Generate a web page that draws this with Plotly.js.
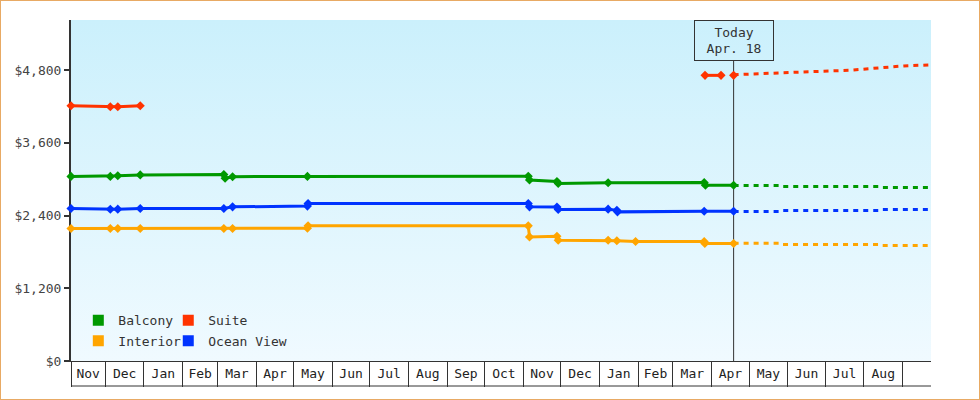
<!DOCTYPE html>
<html><head><meta charset="utf-8">
<script src="https://cdn.plot.ly/plotly-3.0.1.min.js"></script>
<style>
html,body{margin:0;padding:0;background:#fff;}
#wrap{position:relative;width:980px;height:400px;overflow:hidden;background:#fff;}
#bg{position:absolute;left:71px;top:20px;width:860px;height:341px;background:linear-gradient(to bottom,#cbf0fc,#f0faff);}
#chart{position:absolute;left:0;top:0;width:980px;height:400px;}
#frame{position:absolute;left:0;top:0;width:980px;height:400px;box-sizing:border-box;border:1px solid #e8aa64;pointer-events:none;}
</style></head>
<body>
<div id="wrap"><div id="bg"></div><div id="chart"></div><div id="frame"></div></div>
<script>
// ---- data ----
const rangeStart = '2016-11-03 12:00';
const rangeEnd = '2018-09-23 19:00';
const monthStarts = ['2016-12-01','2017-01-01','2017-02-01','2017-03-01','2017-04-01','2017-05-01','2017-06-01','2017-07-01','2017-08-01','2017-09-01','2017-10-01','2017-11-01','2017-12-01','2018-01-01','2018-02-01','2018-03-01','2018-04-01','2018-05-01','2018-06-01','2018-07-01','2018-08-01','2018-09-01'];
const monthLabels = ['Nov','Dec','Jan','Feb','Mar','Apr','May','Jun','Jul','Aug','Sep','Oct','Nov','Dec','Jan','Feb','Mar','Apr','May','Jun','Jul','Aug'];
const yTickValues = [0,1200,2400,3600,4800];
const yTickLabels = ['$0','$1,200','$2,400','$3,600','$4,800'];

const todayDate = '2018-04-18 14:00';
const todayLabel = 'Today<br>Apr. 18';

const seriesNames = ['Balcony','Suite','Interior','Ocean View'];

const balconyDates = ['2016-11-03 12:00','2016-12-05','2016-12-11','2016-12-29','2017-03-06','2017-03-07','2017-03-13','2017-05-12','2017-11-05','2017-11-06','2017-11-28','2017-11-29','2018-01-08','2018-03-26','2018-03-27','2018-04-18 14:00'];
const balconyPrices = [3045,3045,3055,3070,3075,3015,3040,3045,3048,2985,2960,2930,2940,2945,2900,2900];
const balconyFcDates = ['2018-04-18 14:00','2018-05-25','2018-05-26','2018-08-14','2018-08-15','2018-09-23 19:00'];
const balconyFcPrices = [2896,2896,2879,2879,2863,2863];

const suiteDates = ['2016-11-03 12:00','2016-12-05','2016-12-11','2016-12-29','2017-06-01','2018-03-26 16:00','2018-04-08 12:00','2018-04-13','2018-04-18 14:00'];
const suitePrices = [4210,4195,4195,4210,null,4712,4712,null,4712];
const suiteFcDates = ['2018-04-18 14:00','2018-05-09','2018-06-02','2018-06-18','2018-07-20','2018-08-13','2018-09-02','2018-09-23 19:00'];
const suiteFcPrices = [4722,4735,4750,4772,4795,4835,4868,4885];

const interiorDates = ['2016-11-03 12:00','2016-12-05','2016-12-11','2016-12-29','2017-03-06','2017-03-13','2017-05-12','2017-05-12 12:00','2017-11-05','2017-11-06','2017-11-28','2017-11-29','2018-01-08','2018-01-15','2018-01-30','2018-03-26','2018-03-26 12:00','2018-04-18 14:00'];
const interiorPrices = [2186,2186,2186,2186,2186,2186,2190,2229,2229,2047,2059,1993,1993,1983,1971,1971,1938,1938];
const interiorFcDates = ['2018-04-18 14:00','2018-05-25','2018-05-26','2018-08-14','2018-08-15','2018-09-23 19:00'];
const interiorFcPrices = [1943,1943,1921,1921,1905,1905];

const oceanDates = ['2016-11-03 12:00','2016-12-05','2016-12-11','2016-12-29','2017-03-06','2017-03-13','2017-05-12','2017-05-12 12:00','2017-11-05','2017-11-06','2017-11-28','2017-11-29','2018-01-08','2018-01-15','2018-01-15 12:00','2018-03-26','2018-04-18 14:00'];
const oceanPrices = [2516,2503,2505,2516,2516,2543,2555,2599,2599,2543,2540,2500,2505,2485,2460,2471,2471];
const oceanFcDates = ['2018-04-18 14:00','2018-05-25','2018-05-26','2018-08-14','2018-08-15','2018-09-23 19:00'];
const oceanFcPrices = [2466,2466,2483,2483,2500,2500];

// ---- styles ----
const seriesColors = {'Balcony':'#009900','Suite':'#ff3300','Interior':'#ffa500','Ocean View':'#0033ff'};
const FONT = 'DejaVu Sans Mono, monospace';
// legend slot per series: [paper x, paper y]
const legendSlots = {'Balcony':[0.0085,0.1196],'Suite':[0.1131,0.1196],'Interior':[0.0085,0.0592],'Ocean View':[0.1131,0.0592]};

function toMs(s){
  const m = s.match(/^(\d+)-(\d+)-(\d+)(?: (\d+):(\d+))?$/);
  return Date.UTC(+m[1], +m[2]-1, +m[3], m[4]?+m[4]:0, m[5]?+m[5]:0);
}
const bounds = [rangeStart].concat(monthStarts).map(toMs);
const labelPos = monthLabels.map((_, i) => (bounds[i] + bounds[i+1]) / 2);

function solid(name, x, y){
  return {type:'scatter', mode:'lines+markers', x:x, y:y, name:name, showlegend:false,
    cliponaxis:false, hoverinfo:'skip',
    line:{color:seriesColors[name], width:3},
    marker:{symbol:'diamond', size:7, color:seriesColors[name]}};
}
function forecast(name, x, y){
  return {type:'scatter', mode:'lines', x:x, y:y, name:name, showlegend:false,
    cliponaxis:false, hoverinfo:'skip',
    line:{color:seriesColors[name], width:3, dash:'5px,5px'}};
}
const legendIds = ['legend','legend2','legend3','legend4'];
function legendEntry(name, i){
  return {type:'scatter', mode:'markers', x:[null], y:[null], name:name, legend:legendIds[i],
    marker:{symbol:'square', size:11, color:seriesColors[name]}};
}

const traces = [
  solid('Suite', suiteDates, suitePrices), forecast('Suite', suiteFcDates, suiteFcPrices),
  solid('Balcony', balconyDates, balconyPrices), forecast('Balcony', balconyFcDates, balconyFcPrices),
  solid('Ocean View', oceanDates, oceanPrices), forecast('Ocean View', oceanFcDates, oceanFcPrices),
  solid('Interior', interiorDates, interiorPrices), forecast('Interior', interiorFcDates, interiorFcPrices)
].concat(seriesNames.map((n, i) => legendEntry(n, i)));

const layout = {
  width:980, height:400,
  margin:{l:71, r:49, t:20, b:39},
  paper_bgcolor:'rgba(0,0,0,0)', plot_bgcolor:'rgba(0,0,0,0)',
  font:{family:FONT, size:13, color:'#333'},
  hovermode:false,
  showlegend:true,
  xaxis:{type:'date', range:[toMs(rangeStart), toMs(rangeEnd)], showgrid:false, zeroline:false,
    showline:true, linecolor:'#333', linewidth:1, layer:'below traces',
    tickmode:'array', tickvals:labelPos, ticktext:monthLabels, ticks:'',
    ticklabelstandoff:0, tickfont:{family:FONT, size:13, color:'#222'},
    minor:{tickmode:'array', tickvals:bounds, ticks:'outside', ticklen:25, tickwidth:1, tickcolor:'#333', showgrid:false},
    fixedrange:true},
  yaxis:{range:[0,5625], tickmode:'array', tickvals:yTickValues, ticktext:yTickLabels,
    showgrid:false, zeroline:false, showline:true, linecolor:'#333', linewidth:2,
    ticks:'outside', ticklen:5, tickwidth:2, tickcolor:'#333', layer:'below traces',
    tickfont:{family:FONT, size:13, color:'#444'}, fixedrange:true},
  shapes:[
    {type:'line', xref:'paper', x0:0, x1:1, yref:'paper', ysizemode:'pixel', yanchor:0, y0:-25, y1:-25,
     line:{color:'#333', width:1}},
    {type:'line', xref:'x', x0:toMs(todayDate), x1:toMs(todayDate), yref:'paper', y0:0, y1:0.8798,
     line:{color:'#333', width:1}, layer:'below'}
  ],
  annotations:[
    {xref:'x', x:toMs(todayDate), yref:'paper', y:1, yanchor:'top', xanchor:'center', showarrow:false,
     text:todayLabel, bordercolor:'#333', borderwidth:1, borderpad:0, width:78, height:39,
     font:{family:FONT, size:13, color:'#333'}, bgcolor:'rgba(0,0,0,0)'}
  ]
};
seriesNames.forEach((n, i) => {
  layout[legendIds[i]] = {orientation:'v', xanchor:'left', yanchor:'middle',
    x:legendSlots[n][0], y:legendSlots[n][1], bgcolor:'rgba(0,0,0,0)', borderwidth:0,
    font:{family:FONT, size:13, color:'#333'}, itemclick:false, itemdoubleclick:false};
});

Plotly.newPlot('chart', traces, layout, {displayModeBar:false, staticPlot:true});
</script>
</body></html>
